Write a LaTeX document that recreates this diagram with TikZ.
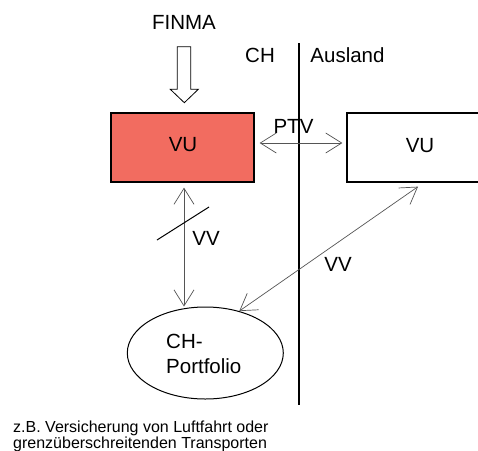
\documentclass[tikz,border=0pt]{standalone}
\usepackage{fontspec}
\setmainfont{Liberation Sans}
\usetikzlibrary{arrows.meta,shapes.geometric}
\definecolor{vured}{RGB}{242,108,96}
\definecolor{arrgray}{RGB}{85,85,85}
\tikzset{
  bigfont/.style={font=\fontsize{20.5}{25}\selectfont},
  smallfont/.style={font=\fontsize{16}{16}\selectfont},
  box/.style={draw=black, line width=1.3pt, minimum width=143pt, minimum height=69pt, inner sep=0pt},
  dbl/.style={draw=arrgray, line width=0.7pt, {Straight Barb[length=16pt,width=20pt]}-{Straight Barb[length=16pt,width=20pt]}},
  hollow/.style={draw=black, line width=0.8pt, fill=white, line join=miter}
}
\begin{document}
\begin{tikzpicture}[x=1pt,y=-1pt]
\useasboundingbox (0,0) rectangle (478,450);
\clip (0,0) rectangle (478,450);
\fill[white] (0,0) rectangle (478,450);

% nodes
\node[box, fill=vured] (red) at (182.5,147.5) {};
\node[box, minimum width=146pt] (right) at (420,147.5) {};
\node[draw=black, line width=1pt, ellipse, minimum width=156pt, minimum height=92pt, inner sep=0pt] (ell) at (205.3,353) {};

% texts
\node[bigfont, anchor=base] (finma) at (184,29) {FINMA};
\node[bigfont, anchor=base] (ch) at (260,62) {CH};
\node[bigfont, anchor=base] (ausland) at (347.5,62) {Ausland};
\node[bigfont, anchor=base] (vu1) at (183,151) {VU};
\node[bigfont, anchor=base] (vu2) at (420,152) {VU};
\node[bigfont, anchor=base] (ptv) at (293.5,133) {PTV};
\node[bigfont, anchor=base] (vv1) at (206,245) {VV};
\node[bigfont, anchor=base] (vv2) at (338,271) {VV};
\node[bigfont, anchor=base west, inner sep=0pt] (port1) at (166,348) {CH-};
\node[bigfont, anchor=base west, inner sep=0pt] (port2) at (166,373) {Portfolio};
\node[smallfont, anchor=base west, inner sep=0pt] (note1) at (13,432) {z.B. Versicherung von Luftfahrt oder};
\node[smallfont, anchor=base west, inner sep=0pt] (note2) at (13,448) {grenzüberschreitenden Transporten};

% border line
\coordinate (ltop) at (299,43);
\coordinate (lbot) at (299,405);
\draw[black, line width=1.5pt] (ltop) -- (lbot);

% hollow arrow FINMA -> VU
\draw[hollow] (177.3,46.7) -- (190.7,46.7) -- (190.7,89.3) -- (198.3,89.3) -- (184.3,102.7) -- (170.3,89.3) -- (177.3,89.3) -- cycle;

% connectors
\draw[dbl] ([xshift=5pt,yshift=4.5pt]red.east) -- ([xshift=-4pt,yshift=4.5pt]right.west);
\draw[dbl] ([xshift=1.5pt,yshift=-5pt]red.south) -- ([xshift=1.5pt]red.south |- ell.north);
\draw[dbl] ([xshift=-2pt,yshift=-4pt]right.south) -- (ell.51);

% slash
\draw[black, line width=1pt] (157,240) -- (209,207);
\end{tikzpicture}
\end{document}
